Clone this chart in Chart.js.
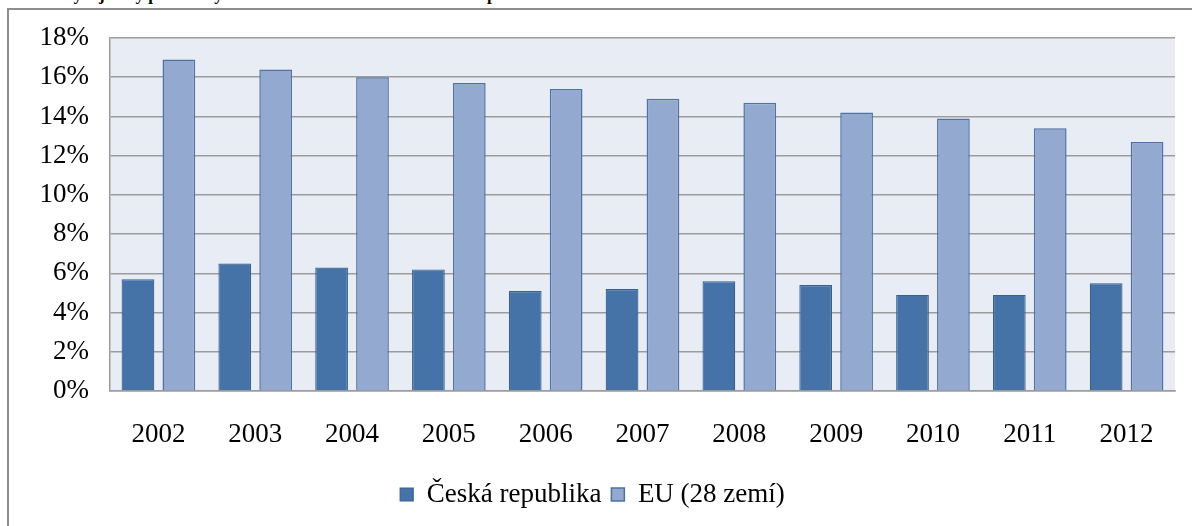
<!DOCTYPE html>
<html lang="cs">
<head>
<meta charset="utf-8">
<title>Předčasné odchody ze vzdělávání</title>
<script src="https://cdn.jsdelivr.net/npm/chart.js@4.4.1/dist/chart.umd.min.js"></script>
<style>
  html, body { margin: 0; padding: 0; background: #fff; overflow: hidden; }
  #wrap { position: relative; width: 1192px; height: 526px; }
  #frame {
    position: absolute; left: 7px; top: 8px; right: -4px; bottom: -4px;
    border-left: 2px solid #8e8e8e; border-top: 2px solid #8e8e8e;
  }
  #nadpis {
    position: absolute; left: 4px; top: -14px; white-space: nowrap;
    font: bold 17px/17px "Liberation Serif", "Times New Roman", serif; color: #000;
  }
  #graf { position: absolute; left: 0; top: 0; }
</style>
</head>
<body>
<div id="wrap">
  <div id="nadpis">Graf 1: Vývoj míry předčasných odchodů ze vzdělávání v České republice a EU</div>
  <div id="frame"></div>
  <canvas id="graf" width="1192" height="526"></canvas>
</div>
<script>
// roky a hodnoty (% mladých lidí, kteří předčasně odešli ze vzdělávání)
const roky = ['2002', '2003', '2004', '2005', '2006', '2007', '2008', '2009', '2010', '2011', '2012'];
const ceskaRepublika = [5.7, 6.5, 6.3, 6.2, 5.1, 5.2, 5.6, 5.4, 4.9, 4.9, 5.5];
const eu28 = [16.9, 16.4, 16.0, 15.7, 15.4, 14.9, 14.7, 14.2, 13.9, 13.4, 12.7];
const nazvyRad = ['Česká republika', 'EU (28 zemí)'];

const pismo = '"Liberation Serif", "Times New Roman", serif';

// podbarvení plochy grafu
const pozadiPlochy = {
    id: 'pozadiPlochy',
    beforeDraw(chart) {
        const { ctx, chartArea: a } = chart;
        ctx.save();
        ctx.fillStyle = '#e8ecf4';
        ctx.fillRect(a.left, a.top, a.right - a.left, a.bottom - a.top);
        ctx.restore();
    }
};

new Chart(document.getElementById('graf'), {
    type: 'bar',
    data: {
        labels: roky,
        datasets: [
            {
                label: nazvyRad[0],
                data: ceskaRepublika,
                backgroundColor: '#4572a7',
                borderColor: '#3a6090',
                borderWidth: 1.2,
                barPercentage: 0.8,
                categoryPercentage: 0.845
            },
            {
                label: nazvyRad[1],
                data: eu28,
                backgroundColor: '#94a9cf',
                borderColor: '#4e72a4',
                borderWidth: 1.5,
                barPercentage: 0.8,
                categoryPercentage: 0.845
            }
        ]
    },
    options: {
        responsive: false,
        animation: false,
        devicePixelRatio: 1,
        layout: { padding: { left: 10, right: 17, top: 38, bottom: 8 } },
        scales: {
            y: {
                min: 0,
                max: 18,
                afterFit(axis) { axis.width = 100; },
                ticks: {
                    stepSize: 2,
                    padding: 21,
                    color: '#000',
                    font: { family: pismo, size: 27 },
                    callback: v => v + '%'
                },
                grid: { color: '#9c9c9c', lineWidth: 1.5, drawTicks: false },
                border: { color: '#9c9c9c', width: 1.5 }
            },
            x: {
                afterFit(axis) { axis.height = 80; },
                ticks: {
                    padding: 28,
                    color: '#000',
                    font: { family: pismo, size: 27 }
                },
                grid: { display: false, drawTicks: false },
                border: { color: '#9c9c9c', width: 1.5 }
            }
        },
        plugins: {
            legend: {
                position: 'bottom',
                labels: {
                    boxWidth: 13,
                    boxHeight: 13,
                    padding: 10,
                    color: '#000',
                    font: { family: pismo, size: 27 }
                }
            },
            tooltip: { enabled: false }
        }
    },
    plugins: [pozadiPlochy]
});
</script>
</body>
</html>
